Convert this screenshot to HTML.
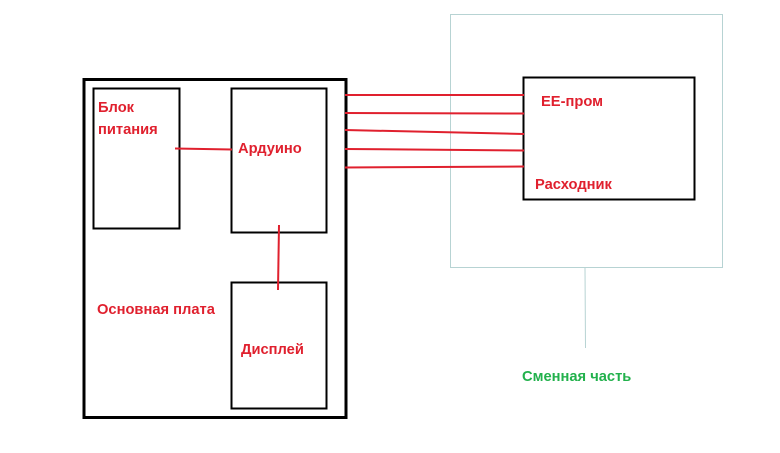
<!DOCTYPE html>
<html><head><meta charset="utf-8"><style>
html,body{margin:0;padding:0;background:#fff;width:780px;height:453px;overflow:hidden}
text{font-family:"Liberation Sans","DejaVu Sans",sans-serif;font-weight:bold;font-size:14.7px}
</style></head><body>
<svg width="780" height="453" viewBox="0 0 780 453" xmlns="http://www.w3.org/2000/svg">
<rect x="450.5" y="14.5" width="272" height="253" fill="none" stroke="#b7d3d3" stroke-width="1"/>
<line x1="585" y1="268" x2="585.5" y2="348" stroke="#b7d3d3" stroke-width="1"/>
<rect x="84" y="79.5" width="262" height="338" fill="none" stroke="#000" stroke-width="3"/>
<rect x="93.5" y="88.5" width="86" height="140" fill="none" stroke="#000" stroke-width="2"/>
<rect x="231.5" y="88.5" width="95" height="144" fill="none" stroke="#000" stroke-width="2"/>
<rect x="231.5" y="282.5" width="95" height="126" fill="none" stroke="#000" stroke-width="2"/>
<rect x="523.5" y="77.5" width="171" height="122" fill="none" stroke="#000" stroke-width="2"/>
<g stroke="#e0202e" stroke-width="2" fill="none">
<line x1="175" y1="148.5" x2="232" y2="149.5"/>
<line x1="279" y1="225" x2="278" y2="290"/>
<line x1="345" y1="95" x2="524" y2="95"/>
<line x1="345" y1="113" x2="524" y2="113.5"/>
<line x1="345" y1="130" x2="524" y2="134"/>
<line x1="345" y1="149" x2="524" y2="150.5"/>
<line x1="345" y1="167.5" x2="524" y2="166.5"/>
</g>
<g fill="#e0202e">
<text x="98" y="112">Блок</text>
<text x="98" y="134">питания</text>
<text x="238" y="153">Ардуино</text>
<text x="97" y="314">Основная плата</text>
<text x="241" y="354">Дисплей</text>
<text x="541" y="106">EE-пром</text>
<text x="535" y="189">Расходник</text>
</g>
<text x="522" y="381" fill="#22b14c">Сменная часть</text>
</svg>
</body></html>
